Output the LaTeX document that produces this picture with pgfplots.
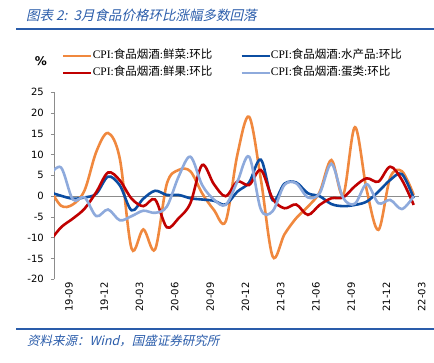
\documentclass[border=0pt]{standalone}
\usepackage{pgfplots}
\usepackage{pgfplotstable}
\pgfplotsset{compat=1.18}
\usepackage{fontspec}
\setmainfont{DejaVu Sans}
\newfontfamily\cjk{Noto Sans CJK SC}
\newfontfamily\cjkit{Noto Sans CJK SC}[FakeSlant=0.22]
\newfontfamily\serif{Liberation Serif}
\definecolor{cOr}{HTML}{F0883E}
\definecolor{cRd}{HTML}{C00000}
\definecolor{cDb}{HTML}{0B4DA2}
\definecolor{cLb}{HTML}{8EAADC}
\definecolor{cTitle}{HTML}{2A5CAA}
\newcommand\leglab[1]{{\serif CPI:}{\cjk 食品烟酒}{\serif :}{\cjk #1}{\serif :}{\cjk 环比}}

\pgfplotstableread{
m veg aqu fruit egg
-1 2.0 1.0 -11.0 5.0
0 -2.3 0.1 -7.5 6.9
1 -2.0 -0.6 -5.4 -0.8
2 1.4 -0.3 -3.0 -0.3
3 10.7 0.6 1.0 -4.8
4 15.2 4.7 5.7 -3.2
5 9.0 2.6 3.8 -5.8
6 -12.6 -3.4 -0.6 -4.8
7 -8.0 -0.6 -2.4 -3.5
8 -12.8 1.3 -0.8 -4.0
9 3.0 0.3 -7.5 -2.5
10 6.3 0.3 -5.3 4.7
11 6.0 -0.5 -1.7 9.5
12 0.7 -0.8 7.5 2.7
13 -3.3 -1.1 2.9 -0.8
14 -6.1 -2.0 0.0 -2.1
15 10.0 1.1 3.5 3.5
16 19.1 3.3 2.7 9.5
17 4.0 8.8 6.3 -3.2
18 -14.5 -1.0 -0.6 -3.6
19 -9.2 3.0 -2.9 2.7
20 -5.3 3.3 -2.0 3.1
21 -2.5 0.7 -4.5 -0.3
22 1.0 0.0 -2.1 0.7
23 8.7 -1.9 -0.5 7.8
24 0.3 -2.4 -0.3 -0.4
25 16.6 -2.1 2.4 -1.8
26 1.5 -1.3 4.3 2.9
27 -8.1 1.1 3.5 -1.7
28 4.5 3.9 7.1 -0.9
29 6.0 5.3 3.9 -3.1
30 0.3 -0.5 -2.1 0.0
}\data

\begin{document}
\begin{tikzpicture}[x=1pt,y=1pt]
\path[use as bounding box] (0,0) rectangle (434,363);
\node[anchor=west, text=cTitle, inner sep=0pt, font=\cjkit\fontsize{13.5}{13.5}\selectfont] at (26,347.5) {图表 2:\ \ 3月食品价格环比涨幅多数回落};
\draw[cTitle, line width=1.8pt] (16,334) -- (434,334);
\draw[cTitle, line width=1.8pt] (16,34) -- (434,34);
\node[anchor=west, text=cTitle, inner sep=0pt, font=\cjkit\fontsize{12.5}{12.5}\selectfont] at (27,22) {资料来源：Wind，国盛证券研究所};
\node[font=\bfseries\fontsize{12}{12}\selectfont, inner sep=0pt] at (41,302) {\%};
\begin{axis}[
  at={(54pt,83.7pt)}, anchor=south west,
  scale only axis, width=365pt, height=187pt,
  xmin=-0.6, xmax=30.45, ymin=-20, ymax=25,
  axis y line*=left, axis x line*=bottom,
  x axis line style={draw=none},
  y axis line style={draw=gray!90, line width=0.6pt},
  ytick={-20,-15,...,25},
  ytick style={draw=gray!90, line width=0.6pt},
  tick align=outside, major tick length=3pt,
  xtick={0,3,...,30},
  xticklabels={19-09,19-12,20-03,20-06,20-09,20-12,21-03,21-06,21-09,21-12,22-03},
  xtick style={draw=none},
  xticklabel style={rotate=90, anchor=east, inner sep=0pt, yshift=-8pt, font=\fontsize{10}{10}\selectfont},
  yticklabel style={anchor=east, inner sep=0pt, xshift=-7pt, font=\fontsize{10}{10}\selectfont},
  /pgf/number format/assume math mode=true,
  extra y ticks={0}, extra y tick labels={},
  extra y tick style={grid=major, major grid style={draw=gray!90, line width=0.7pt}, tick style={draw=none}},
  clip=true,
  legend columns=2,
  legend cell align=left,
  legend image code/.code={\draw[#1] (0pt,0pt) -- (28pt,0pt);},
  legend style={at={(axis description cs:0.0219,1.225)}, anchor=north west, draw=none, fill=none,
    inner sep=0pt, row sep=6pt,
    nodes={inner sep=0pt, text height=8.5pt, text depth=2.5pt, font=\fontsize{11.5}{13}\selectfont, xshift=3pt},
    /tikz/every even column/.append style={column sep=28pt}},
]
\addplot[cOr, line width=2.6pt, smooth, tension=0.55] table[x=m, y=veg] {\data};
\addlegendentry{\leglab{鲜菜}}
\addplot[cDb, line width=2.6pt, smooth, tension=0.55] table[x=m, y=aqu] {\data};
\addlegendentry{\leglab{水产品}}
\addplot[cRd, line width=2.6pt, smooth, tension=0.55] table[x=m, y=fruit] {\data};
\addlegendentry{\leglab{鲜果}}
\addplot[cLb, line width=2.6pt, smooth, tension=0.55] table[x=m, y=egg] {\data};
\addlegendentry{\leglab{蛋类}}
\end{axis}
\end{tikzpicture}
\end{document}
